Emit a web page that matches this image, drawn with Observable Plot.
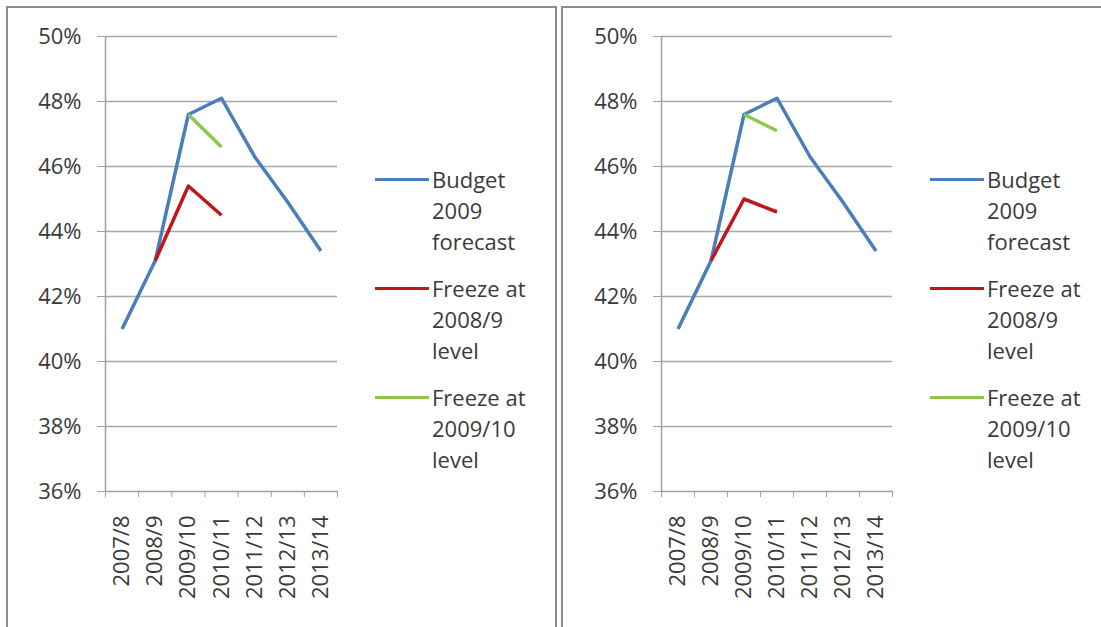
<!DOCTYPE html>
<html>
<head>
<meta charset="utf-8">
<script src="https://cdn.jsdelivr.net/npm/d3@7"></script>
<script src="https://cdn.jsdelivr.net/npm/@observablehq/plot@0.6"></script>
<style>
  html, body { margin: 0; padding: 0; background: #fff; width: 1101px; height: 627px; overflow: hidden; }
  .panel { position: absolute; top: 6px; height: 700px; border: 2px solid #8e8e8e; box-sizing: border-box; background: #fff; }
  #p1 { left: 6px; width: 551px; }
  #p2 { left: 561px; width: 600px; }
  .chart { position: absolute; left: 0; top: 0; }
  .legend { position: absolute; left: 367px; top: 156px; font-family: "Open Sans", sans-serif; font-size: 22px; line-height: 31px; color: #3a3a3a; }
  .entry { position: relative; padding-left: 57px; margin-bottom: 16px; white-space: nowrap; }
  .entry .swatch { position: absolute; left: 0; top: 14px; width: 54px; height: 3px; }
</style>
</head>
<body>
<div class="panel" id="p1"><div class="chart"></div><div class="legend"></div></div>
<div class="panel" id="p2"><div class="chart"></div><div class="legend"></div></div>
<script>
const categories = ["2007/8", "2008/9", "2009/10", "2010/11", "2011/12", "2012/13", "2013/14"];
const yTicks = [36, 38, 40, 42, 44, 46, 48, 50];
const seriesNames = ["Budget 2009 forecast", "Freeze at 2008/9 level", "Freeze at 2009/10 level"];
const legendLines = [["Budget", "2009", "forecast"], ["Freeze at", "2008/9", "level"], ["Freeze at", "2009/10", "level"]];
const seriesColors = ["#4a7ebb", "#c0161c", "#8cc84b"];

// Budget 2009 forecast (same in both panels), % of GDP
const budget = [41.0, 43.1, 47.6, 48.1, 46.3, 44.9, 43.4];
// Left panel
const freeze0809Left = [43.1, 45.4, 44.5];   // 2008/9 .. 2010/11
const freeze0910Left = [47.6, 46.6];         // 2009/10 .. 2010/11
// Right panel
const freeze0809Right = [43.1, 45.0, 44.6];
const freeze0910Right = [47.6, 47.1];

function rows(values, startIndex, series) {
  return values.map((v, i) => ({cat: categories[startIndex + i], idx: startIndex + i, value: v, series}));
}

function makeChart(red, green, marginLeft) {
  const data = [
    ...rows(budget, 0, seriesNames[0]),
    ...rows(red, 1, seriesNames[1]),
    ...rows(green, 2, seriesNames[2])
  ];
  const pos = d => d.idx + 0.5;
  return Plot.plot({
    width: 341,
    height: 610,
    marginLeft,
    marginRight: 12,
    marginTop: 28,
    marginBottom: 127,
    style: {fontFamily: "Open Sans, sans-serif", fontSize: "22px", color: "#3a3a3a", background: "transparent", overflow: "visible"},
    x: {domain: [0, categories.length], axis: null},
    y: {domain: [36, 50], axis: null},
    color: {domain: seriesNames, range: seriesColors},
    marks: [
      Plot.gridY(yTicks.slice(1), {stroke: "#a9a9a9", strokeOpacity: 1, strokeWidth: 1.5}),
      Plot.ruleX([0], {stroke: "#a0a0a0", strokeWidth: 1.5}),
      Plot.ruleY([36], {stroke: "#a0a0a0", strokeWidth: 1.5}),
      Plot.axisY({ticks: yTicks, label: null, tickSize: 8, tickPadding: 16, stroke: "#a0a0a0", fill: "#3a3a3a", tickFormat: d => d + "%", fontSize: 22}),
      Plot.axisX({ticks: d3.range(0, categories.length + 1), label: null, tickSize: 6, stroke: "#a0a0a0", tickFormat: () => ""}),
      Plot.axisX({ticks: categories.map((c, i) => i + 0.5), label: null, tickSize: 0, tickPadding: 24, tickRotate: -90, fill: "#3a3a3a", tickFormat: d => categories[Math.round(d - 0.5)], fontSize: 22}),
      Plot.line(data, {x: pos, y: "value", z: "series", stroke: "series", strokeWidth: 3.5, strokeLinejoin: "round", strokeLinecap: "butt"})
    ]
  });
}

function makeLegend(el) {
  legendLines.forEach((lines, i) => {
    const e = document.createElement("div");
    e.className = "entry";
    const sw = document.createElement("span");
    sw.className = "swatch";
    sw.style.background = seriesColors[i];
    e.appendChild(sw);
    lines.forEach(t => { const l = document.createElement("div"); l.textContent = t; e.appendChild(l); });
    el.appendChild(e);
  });
}

document.querySelector("#p1 .chart").appendChild(makeChart(freeze0809Left, freeze0910Left, 97));
document.querySelector("#p2 .chart").appendChild(makeChart(freeze0809Right, freeze0910Right, 98));
makeLegend(document.querySelector("#p1 .legend"));
makeLegend(document.querySelector("#p2 .legend"));
</script>
</body>
</html>
